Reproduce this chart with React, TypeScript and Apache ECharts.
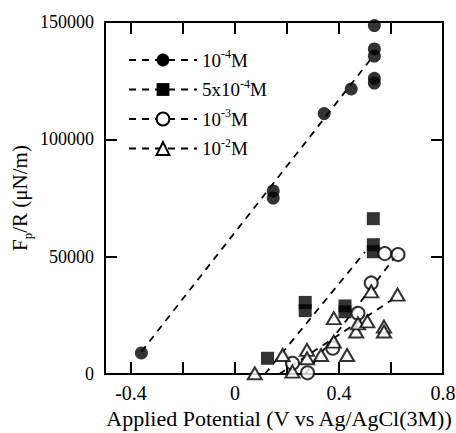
import React, { useEffect, useRef } from "react";
import * as echarts from "echarts";

// ---- data ----
const xTickValues = [-0.4, -0.2, 0, 0.2, 0.4, 0.6, 0.8];
const xLabelValues = [-0.4, 0, 0.4, 0.8];

const seriesNames = ["10^-4M", "5x10^-4M", "10^-3M", "10^-2M"];
const legendLabels = ["10{s|-4}M", "5x10{s|-4}M", "10{s|-3}M", "10{s|-2}M"];

// 10^-4 M (filled circles)
const pts1e4: number[][] = [
  [-0.36, 9000], [0.147, 78000], [0.147, 75000], [0.343, 111000], [0.447, 121500],
  [0.536, 148500], [0.536, 138500], [0.536, 135500], [0.536, 126000], [0.536, 124000],
];
// 5x10^-4 M (filled squares)
const pts5e4: number[][] = [
  [0.125, 6700], [0.27, 30500], [0.27, 27000], [0.423, 29000], [0.423, 26500],
  [0.532, 66200], [0.532, 55100], [0.532, 52100],
];
// 10^-3 M (open circles)
const pts1e3: number[][] = [
  [0.221, 4600], [0.279, 500], [0.376, 11000], [0.473, 25900], [0.524, 38800],
  [0.576, 51300], [0.627, 50900],
];
// 10^-2 M (open triangles)
const pts1e2: number[][] = [
  [0.076, 300], [0.183, 8100], [0.221, 1000], [0.277, 10300], [0.277, 6700],
  [0.331, 8100], [0.38, 13800], [0.38, 23800], [0.431, 8100], [0.466, 18100],
  [0.473, 21600], [0.509, 22400], [0.524, 35200], [0.573, 20200], [0.573, 18100],
  [0.625, 33800],
];

// dashed fit lines (end points)
const fit1e4: number[][] = [[-0.36, 9500], [0.535, 136000]];
const fit5e4: number[][] = [[0.115, 0], [0.5, 52000]];
const fit1e3: number[][] = [[0.27, 0], [0.62, 50500]];
const fit1e2: number[][] = [[0.17, 0], [0.63, 33500]];

const FONT = "'Liberation Serif', 'Times New Roman', serif";

export default function App() {
  const ref = useRef<HTMLDivElement>(null);

  useEffect(() => {
    if (!ref.current) return;
    const chart = echarts.init(ref.current, undefined, { renderer: "svg" });

    const pts = [pts1e4, pts5e4, pts1e3, pts1e2];
    const fits = [fit1e4, fit5e4, fit1e3, fit1e2];
    const symbols = ["circle", "rect", "circle", "triangle"];
    const sizes: any[] = [13, 13, 13, [14, 12]];
    const filled = [true, true, false, false];

    const series: any[] = [];
    for (let i = 0; i < 4; i++) {
      const itemStyle = filled[i]
        ? { color: "#000", borderWidth: 0 }
        : { color: "#fff", borderColor: "#000", borderWidth: 2 };
      series.push({
        type: "line",
        name: seriesNames[i],
        data: fits[i],
        showSymbol: false,
        symbol: symbols[i],
        symbolSize: sizes[i],
        itemStyle,
        lineStyle: { color: "#000", width: 1.8, type: [7, 6] },
        silent: true,
        z: 2,
      });
      series.push({
        type: "scatter",
        name: seriesNames[i],
        data: pts[i],
        symbol: symbols[i],
        symbolSize: sizes[i],
        itemStyle,
        z: 3,
      });
    }

    const axisLine = { onZero: false, lineStyle: { color: "#000", width: 2 } };
    const tickStyle = { color: "#000", width: 2 };

    chart.setOption({
      animation: false,
      backgroundColor: "#fff",
      grid: { left: 105, right: 13, top: 22, bottom: 59, containLabel: false, outerBoundsMode: "none" },
      legend: {
        orient: "vertical",
        left: 128,
        top: 48,
        padding: 0,
        itemWidth: 68,
        itemHeight: 16,
        itemGap: 5.5,
        selectedMode: false,
        data: seriesNames,
        formatter: (name: string) => legendLabels[seriesNames.indexOf(name)],
        textStyle: {
          fontFamily: FONT,
          fontSize: 19,
          color: "#000",
          lineHeight: 24,
          rich: {
            s: { fontFamily: FONT, fontSize: 12, color: "#000", verticalAlign: "top", lineHeight: 12 },
          },
        },
      },
      xAxis: [
        {
          type: "value",
          min: -0.5,
          max: 0.8,
          position: "bottom",
          axisLine,
          axisTick: { inside: true, length: 12, lineStyle: tickStyle, customValues: xTickValues },
          axisLabel: { customValues: xLabelValues, margin: 9, color: "#000", fontFamily: FONT, fontSize: 20 },
          splitLine: { show: false },
          name: "Applied Potential (V vs Ag/AgCl(3M))",
          nameLocation: "middle",
          nameGap: 33,
          nameMoveOverlap: false,
          nameTextStyle: { fontFamily: FONT, fontSize: 22, color: "#000", padding: [0, 0, 0, 10] },
        },
        {
          type: "value",
          min: -0.5,
          max: 0.8,
          position: "top",
          axisLine,
          axisTick: { inside: true, length: 12, lineStyle: tickStyle, customValues: xTickValues },
          axisLabel: { show: false },
          splitLine: { show: false },
        },
      ],
      yAxis: [
        {
          type: "value",
          min: 0,
          max: 150000,
          interval: 50000,
          position: "left",
          axisLine,
          axisTick: { inside: true, length: 12, lineStyle: tickStyle },
          axisLabel: {
            margin: 11,
            color: "#000",
            fontFamily: FONT,
            fontSize: 18,
            formatter: (v: number) => String(v),
          },
          splitLine: { show: false },
          name: "F{sub|p}/R (μN/m)",
          nameLocation: "middle",
          nameGap: 71,
          nameMoveOverlap: false,
          nameTextStyle: {
            fontFamily: FONT,
            fontSize: 21,
            color: "#000",
            lineHeight: 28,
            rich: {
              sub: { fontFamily: FONT, fontSize: 13, color: "#000", verticalAlign: "bottom", lineHeight: 13 },
            },
          },
        },
        {
          type: "value",
          min: 0,
          max: 150000,
          interval: 50000,
          position: "right",
          axisLine,
          axisTick: { inside: true, length: 12, lineStyle: tickStyle },
          axisLabel: { show: false },
          splitLine: { show: false },
        },
      ],
      series,
    });

    return () => chart.dispose();
  }, []);

  return (
    <div
      ref={ref}
      style={{ position: "fixed", left: 0, top: 0, width: 456, height: 433, background: "#fff" }}
    />
  );
}
